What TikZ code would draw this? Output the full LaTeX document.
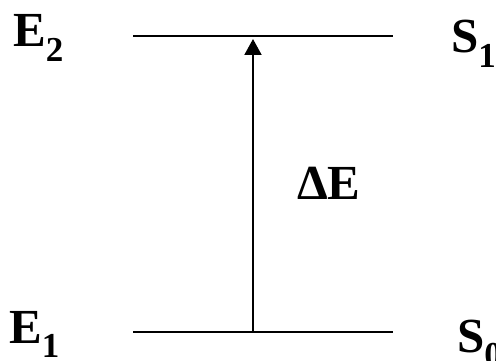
\documentclass[tikz,border=0pt]{standalone}
\usepackage{fontspec}
\setmainfont{Liberation Serif}
\usetikzlibrary{arrows.meta}

\newcommand{\lvsub}[1]{\raisebox{-0.3em}{\fontsize{35}{37}\selectfont #1}}

\begin{document}
\begin{tikzpicture}[
  x=1pt, y=-1pt,
  font=\fontsize{49}{53}\selectfont\bfseries,
  level/.style ={draw=black, line width=1.6pt},
  lbl/.style   ={inner sep=0pt, anchor=base west},
  trans/.style ={draw=black, line width=2pt, -{Triangle[length=16pt, width=17pt]}},
]
\useasboundingbox (0,0) rectangle (496,361);

% --- Niveaux ---
\coordinate (e2l) at (133,36);
\coordinate (e2r) at (393,36);
\coordinate (e1l) at (133,332);
\coordinate (e1r) at (393,332);
\draw[level] (e2l) -- (e2r);
\draw[level] (e1l) -- (e1r);

% --- Transition ---
\coordinate (from) at (253,332);
\coordinate (to)   at (253,39);
\draw[trans] (from) -- (to);

% --- Etiquettes ---
\node[lbl] (e2) at (13,47)   {E\lvsub{2}};
\node[lbl] (e1) at (9,343)   {E\lvsub{1}};
\node[lbl] (s1) at (451,53)  {S\lvsub{1}};
\node[lbl] (s0) at (457,352) {S\lvsub{0}};
\node[lbl] (de) at (297,199) {ΔE};

\end{tikzpicture}
\end{document}
